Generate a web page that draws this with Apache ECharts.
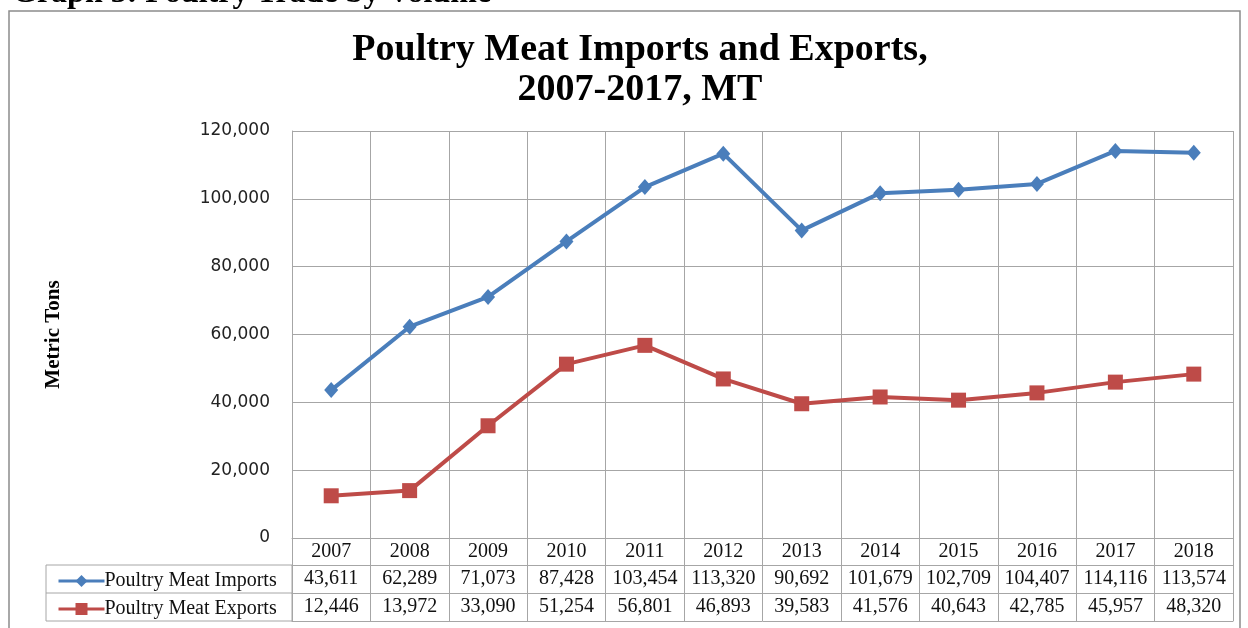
<!DOCTYPE html>
<html>
<head>
<meta charset="utf-8">
<script src="https://cdn.jsdelivr.net/npm/echarts@6/dist/echarts.min.js"></script>
<style>
  html, body { margin: 0; padding: 0; background: #fff; }
  #chart { width: 1248px; height: 628px; }
</style>
</head>
<body>
<div id="chart"></div>
<script>
// 数据
var years = ['2007', '2008', '2009', '2010', '2011', '2012', '2013', '2014', '2015', '2016', '2017', '2018'];
var imports = [43611, 62289, 71073, 87428, 103454, 113320, 90692, 101679, 102709, 104407, 114116, 113574];
var exports = [12446, 13972, 33090, 51254, 56801, 46893, 39583, 41576, 40643, 42785, 45957, 48320];
var yTicks = [0, 20000, 40000, 60000, 80000, 100000, 120000];

function fmt(v) {
    return Number(v).toLocaleString('en-US');
}

var serif = '"Liberation Serif", "Times New Roman", serif';
var gridColor = '#a6a6a6';

var chart = echarts.init(document.getElementById('chart'));

// table row axis (header / imports / exports / bottom border)
function tableAxis(data, offset, tickLen, margin) {
    return {
        type: 'category',
        data: data,
        position: 'bottom',
        offset: offset,
        boundaryGap: true,
        axisLine: { show: true, lineStyle: { color: gridColor, width: 1 } },
        axisTick: { show: tickLen > 0, interval: 0, length: tickLen, lineStyle: { color: gridColor } },
        axisLabel: {
            show: margin != null,
            interval: 0,
            margin: margin || 0,
            color: '#111',
            fontFamily: serif,
            fontSize: 20
        },
        splitLine: { show: false }
    };
}

var xHeader = tableAxis(years, 0, 27, 4);
xHeader.splitLine = { show: true, interval: 0, lineStyle: { color: gridColor, width: 1 } };

var option = {
    animation: false,
    backgroundColor: '#fff',
    title: {
        text: 'Poultry Meat Imports and Exports,\n2007-2017, MT',
        left: 635,
        textAlign: 'center',
        top: 25,
        textStyle: {
            fontFamily: serif,
            fontWeight: 'bold',
            fontSize: 38,
            lineHeight: 40,
            color: '#000'
        }
    },
    legend: {
        orient: 'vertical',
        left: 52,
        top: 566,
        itemWidth: 46,
        itemHeight: 15,
        itemGap: 8,
        lineStyle: { width: 3 },
        data: ['Poultry Meat Imports', 'Poultry Meat Exports'],
        textStyle: { fontFamily: serif, fontSize: 20, color: '#111', padding: [0, 0, 0, -5] }
    },
    grid: {
        left: 292,
        right: 15,
        top: 131,
        bottom: 90
    },
    xAxis: [
        xHeader,
        tableAxis(imports.map(fmt), 27, 28, 4),
        tableAxis(exports.map(fmt), 55, 28, 4),
        tableAxis(years, 83, 0, null)
    ],
    yAxis: {
        type: 'value',
        min: 0,
        max: 120000,
        interval: 20000,
        name: 'Metric Tons',
        nameLocation: 'middle',
        nameRotate: 90,
        nameGap: 228,
        nameTextStyle: { fontFamily: serif, fontWeight: 'bold', fontSize: 21, color: '#000' },
        axisLine: { show: true, lineStyle: { color: gridColor } },
        axisTick: { show: false },
        axisLabel: {
            margin: 22,
            color: '#222',
            fontFamily: '"DejaVu Sans", sans-serif',
            fontSize: 17,
            formatter: function (v) { return yTicks.indexOf(v) >= 0 ? fmt(v) : ''; }
        },
        splitLine: { show: true, lineStyle: { color: gridColor, width: 1 } }
    },
    series: [
        {
            name: 'Poultry Meat Imports',
            type: 'line',
            data: imports,
            symbol: 'diamond',
            symbolSize: [14, 16],
            lineStyle: { width: 4, color: '#4A7EBB' },
            itemStyle: { color: '#4A7EBB' }
        },
        {
            name: 'Poultry Meat Exports',
            type: 'line',
            data: exports,
            symbol: 'rect',
            symbolSize: 15,
            lineStyle: { width: 4, color: '#BE4B48' },
            itemStyle: { color: '#BE4B48' }
        }
    ],
    graphic: [
        // cut-off heading above the chart frame
        {
            type: 'text',
            left: 12,
            top: -22,
            style: {
                text: 'Graph 3: Poultry Trade by Volume',
                font: 'bold 32px ' + serif,
                fill: '#000'
            }
        },
        // outer frame
        {
            type: 'rect',
            shape: { x: 9, y: 11, width: 1231, height: 630 },
            style: { fill: null, stroke: '#8c8c8c', lineWidth: 1.5 },
            silent: true
        },
        // legend column of the data table
        {
            type: 'rect',
            shape: { x: 46, y: 565, width: 246, height: 56 },
            style: { fill: null, stroke: gridColor, lineWidth: 1 },
            silent: true
        },
        {
            type: 'line',
            shape: { x1: 46, y1: 593, x2: 292, y2: 593 },
            style: { stroke: gridColor, lineWidth: 1 },
            silent: true
        }
    ]
};

chart.setOption(option);
</script>
</body>
</html>
